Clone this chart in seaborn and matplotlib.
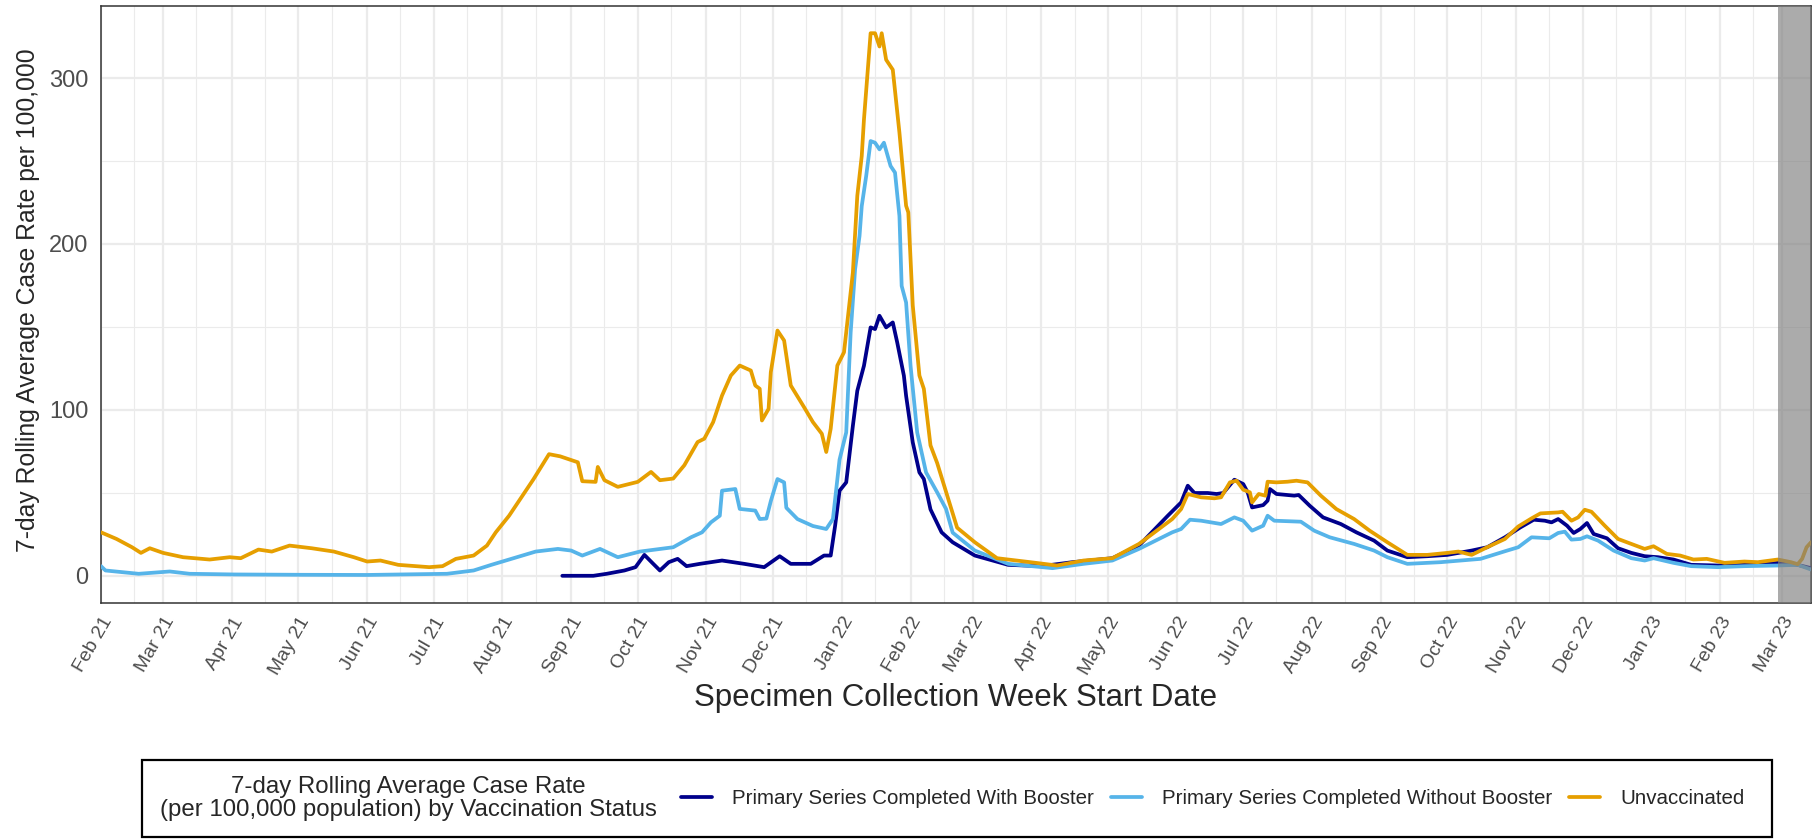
import pandas as pd
import matplotlib
matplotlib.use("Agg")
import matplotlib.pyplot as plt
import matplotlib.dates as mdates
from matplotlib.patches import Rectangle
from matplotlib.ticker import MultipleLocator
import seaborn as sns


# 7-day rolling average case rate per 100,000
unvax_dates = [
    "2021-02-01", "2021-02-08", "2021-02-15", "2021-02-19", "2021-02-23", "2021-03-01",
    "2021-03-10", "2021-03-22", "2021-03-31", "2021-04-05", "2021-04-13", "2021-04-19",
    "2021-04-27", "2021-05-07", "2021-05-17", "2021-05-26", "2021-06-01", "2021-06-07",
    "2021-06-15", "2021-06-29", "2021-07-05", "2021-07-11", "2021-07-19", "2021-07-25",
    "2021-07-29", "2021-08-04", "2021-08-09", "2021-08-15", "2021-08-22", "2021-08-27",
    "2021-09-04", "2021-09-06", "2021-09-12", "2021-09-13", "2021-09-16", "2021-09-22",
    "2021-10-01", "2021-10-07", "2021-10-11", "2021-10-17", "2021-10-22", "2021-10-28",
    "2021-10-31", "2021-11-04", "2021-11-08", "2021-11-12", "2021-11-16", "2021-11-21",
    "2021-11-23", "2021-11-25", "2021-11-26", "2021-11-29", "2021-11-30", "2021-12-03",
    "2021-12-06", "2021-12-09", "2021-12-15", "2021-12-19", "2021-12-23", "2021-12-25",
    "2021-12-27", "2021-12-30", "2022-01-02", "2022-01-06", "2022-01-08", "2022-01-10",
    "2022-01-11", "2022-01-14", "2022-01-16", "2022-01-18", "2022-01-19", "2022-01-21",
    "2022-01-24", "2022-01-27", "2022-01-30", "2022-01-31", "2022-02-02", "2022-02-05",
    "2022-02-07", "2022-02-10", "2022-02-13", "2022-02-17", "2022-02-22", "2022-03-02",
    "2022-03-12", "2022-03-27", "2022-04-08", "2022-04-20", "2022-05-03", "2022-05-15",
    "2022-05-30", "2022-06-03", "2022-06-06", "2022-06-12", "2022-06-18", "2022-06-21",
    "2022-06-25", "2022-06-28", "2022-07-01", "2022-07-04", "2022-07-05", "2022-07-08",
    "2022-07-11", "2022-07-12", "2022-07-16", "2022-07-21", "2022-07-25", "2022-07-30",
    "2022-08-05", "2022-08-12", "2022-08-20", "2022-08-27", "2022-09-04", "2022-09-13",
    "2022-09-22", "2022-10-01", "2022-10-06", "2022-10-12", "2022-10-19", "2022-10-27",
    "2022-11-02", "2022-11-08", "2022-11-12", "2022-11-20", "2022-11-22", "2022-11-26",
    "2022-11-29", "2022-12-02", "2022-12-05", "2022-12-11", "2022-12-17", "2022-12-23",
    "2022-12-29", "2023-01-02", "2023-01-08", "2023-01-14", "2023-01-20", "2023-01-26",
    "2023-02-03", "2023-02-12", "2023-02-18", "2023-02-27", "2023-03-05", "2023-03-08",
    "2023-03-10", "2023-03-12", "2023-03-14",
]
unvax_rate = [
    26.2, 22.2, 17.2, 13.8, 16.6, 13.8,
    11.2, 9.8, 11.2, 10.6, 15.8, 14.6,
    18.2, 16.6, 14.6, 11.2, 8.6, 9.2,
    6.6, 5.2, 5.8, 10.2, 12.2, 18.2,
    26.2, 36.2, 46.2, 58.2, 73.3, 72.0,
    68.4, 57.0, 56.6, 65.6, 57.6, 53.6,
    56.6, 62.6, 57.6, 58.6, 66.6, 80.6,
    82.6, 92.6, 108.6, 120.7, 126.7, 123.7,
    114.7, 112.7, 93.6, 100.6, 122.7, 147.8,
    141.8, 114.7, 101.6, 92.6, 85.6, 74.6,
    88.6, 126.7, 134.7, 182.8, 229.0, 253.0,
    275.0, 327.0, 327.0, 319.0, 327.0, 311.0,
    305.0, 267.0, 223.0, 219.0, 163.0, 120.7,
    112.7, 78.6, 68.0, 50.6, 29.0, 20.2,
    10.6, 8.2, 6.2, 9.2, 10.6, 19.2,
    34.2, 40.2, 49.3, 47.3, 46.7, 47.3,
    56.3, 57.3, 51.9, 50.3, 44.2, 49.3,
    48.3, 56.7, 56.3, 56.7, 57.3, 56.3,
    48.3, 40.2, 34.2, 27.2, 20.2, 12.6,
    12.6, 13.8, 14.6, 12.6, 17.2, 22.2,
    29.7, 34.6, 37.6, 38.2, 38.6, 33.2,
    35.2, 39.8, 38.6, 30.2, 22.2, 19.2,
    16.2, 17.8, 13.2, 12.2, 9.8, 10.2,
    7.8, 8.6, 8.2, 9.8, 8.2, 7.0,
    10.2, 17.2, 20.2,
]

no_booster_dates = [
    "2021-02-01", "2021-02-03", "2021-02-18", "2021-03-04", "2021-03-13", "2021-04-02",
    "2021-05-02", "2021-06-01", "2021-07-07", "2021-07-19", "2021-07-27", "2021-08-06",
    "2021-08-16", "2021-08-26", "2021-09-01", "2021-09-06", "2021-09-14", "2021-09-22",
    "2021-10-02", "2021-10-17", "2021-10-25", "2021-10-30", "2021-11-03", "2021-11-07",
    "2021-11-08", "2021-11-14", "2021-11-16", "2021-11-23", "2021-11-25", "2021-11-28",
    "2021-11-30", "2021-12-03", "2021-12-06", "2021-12-07", "2021-12-12", "2021-12-19",
    "2021-12-25", "2021-12-28", "2021-12-31", "2022-01-03", "2022-01-05", "2022-01-07",
    "2022-01-09", "2022-01-10", "2022-01-12", "2022-01-14", "2022-01-16", "2022-01-18",
    "2022-01-20", "2022-01-23", "2022-01-25", "2022-01-27", "2022-01-28", "2022-01-30",
    "2022-02-01", "2022-02-04", "2022-02-08", "2022-02-13", "2022-02-17", "2022-02-20",
    "2022-03-02", "2022-03-17", "2022-04-06", "2022-04-20", "2022-05-03", "2022-05-15",
    "2022-05-30", "2022-06-03", "2022-06-07", "2022-06-12", "2022-06-21", "2022-06-27",
    "2022-07-01", "2022-07-05", "2022-07-10", "2022-07-12", "2022-07-15", "2022-07-27",
    "2022-08-02", "2022-08-09", "2022-08-20", "2022-08-29", "2022-09-04", "2022-09-13",
    "2022-09-28", "2022-10-16", "2022-10-28", "2022-11-02", "2022-11-08", "2022-11-16",
    "2022-11-20", "2022-11-23", "2022-11-26", "2022-11-30", "2022-12-03", "2022-12-08",
    "2022-12-15", "2022-12-23", "2022-12-29", "2023-01-02", "2023-01-11", "2023-01-19",
    "2023-01-31", "2023-02-12", "2023-02-27", "2023-03-08", "2023-03-14",
]
no_booster_rate = [
    5.8, 3.2, 1.2, 2.6, 1.2, 0.8,
    0.6, 0.5, 1.2, 3.2, 6.6, 10.6,
    14.6, 16.2, 15.2, 12.2, 16.2, 11.2,
    14.6, 17.2, 23.2, 26.2, 32.2, 36.2,
    51.3, 52.3, 40.3, 39.3, 34.2, 34.5,
    45.0, 58.3, 56.3, 41.0, 34.2, 30.0,
    28.2, 34.2, 70.0, 86.4, 146.6, 184.7,
    204.8, 222.8, 240.9, 262.0, 261.0, 257.0,
    261.0, 247.0, 243.0, 216.8, 174.7, 164.7,
    126.6, 86.4, 62.3, 50.3, 40.3, 26.0,
    15.2, 7.2, 4.6, 7.2, 9.2, 16.2,
    26.2, 28.2, 33.8, 33.2, 31.2, 35.2,
    33.2, 27.2, 30.2, 36.2, 33.2, 32.6,
    27.2, 23.2, 19.2, 15.2, 11.2, 7.2,
    8.2, 10.2, 15.2, 17.2, 23.2, 22.6,
    25.8, 26.6, 21.8, 22.2, 23.8, 21.2,
    15.2, 10.6, 9.2, 10.6, 7.8, 5.8,
    5.2, 5.8, 6.2, 6.6, 3.8,
]

booster_dates = [
    "2021-08-28", "2021-09-05", "2021-09-11", "2021-09-17", "2021-09-25", "2021-09-30",
    "2021-10-04", "2021-10-08", "2021-10-11", "2021-10-15", "2021-10-19", "2021-10-23",
    "2021-10-29", "2021-11-08", "2021-11-18", "2021-11-27", "2021-12-04", "2021-12-09",
    "2021-12-18", "2021-12-24", "2021-12-27", "2021-12-29", "2021-12-31", "2022-01-03",
    "2022-01-06", "2022-01-08", "2022-01-11", "2022-01-14", "2022-01-16", "2022-01-18",
    "2022-01-21", "2022-01-24", "2022-01-26", "2022-01-29", "2022-01-30", "2022-02-02",
    "2022-02-05", "2022-02-07", "2022-02-10", "2022-02-15", "2022-02-20", "2022-03-02",
    "2022-03-17", "2022-04-01", "2022-04-15", "2022-05-03", "2022-05-15", "2022-05-28",
    "2022-06-03", "2022-06-06", "2022-06-09", "2022-06-15", "2022-06-19", "2022-06-22",
    "2022-06-27", "2022-07-01", "2022-07-03", "2022-07-05", "2022-07-10", "2022-07-12",
    "2022-07-13", "2022-07-16", "2022-07-24", "2022-07-26", "2022-07-31", "2022-08-06",
    "2022-08-14", "2022-08-21", "2022-08-29", "2022-09-04", "2022-09-13", "2022-09-22",
    "2022-10-01", "2022-10-12", "2022-10-19", "2022-10-27", "2022-11-03", "2022-11-09",
    "2022-11-14", "2022-11-17", "2022-11-20", "2022-11-24", "2022-11-27", "2022-11-30",
    "2022-12-03", "2022-12-06", "2022-12-12", "2022-12-17", "2022-12-23", "2022-12-29",
    "2023-01-04", "2023-01-11", "2023-01-19", "2023-01-31", "2023-02-12", "2023-02-27",
    "2023-03-08", "2023-03-14",
]
booster_rate = [
    0.0, 0.0, 0.0, 1.2, 3.2, 5.2,
    12.6, 7.2, 3.2, 8.2, 10.2, 5.8,
    7.2, 9.2, 7.2, 5.2, 11.8, 7.2,
    7.2, 12.2, 12.2, 30.2, 51.3, 56.3,
    90.4, 111.5, 126.6, 149.7, 148.7, 156.7,
    149.7, 152.7, 140.6, 120.6, 108.5, 80.4,
    62.3, 58.3, 40.0, 26.2, 20.2, 12.2,
    6.6, 5.8, 8.2, 10.6, 18.2, 36.2,
    44.2, 54.3, 49.9, 49.9, 49.3, 49.9,
    57.9, 55.3, 50.3, 41.2, 42.6, 45.3,
    52.3, 49.3, 48.3, 48.7, 42.2, 35.2,
    31.2, 26.2, 21.2, 15.2, 11.2, 11.8,
    12.6, 15.2, 17.2, 23.2, 29.2, 33.8,
    33.2, 32.2, 34.2, 30.2, 25.8, 28.2,
    31.8, 25.2, 22.6, 16.6, 13.8, 11.8,
    11.2, 9.8, 6.6, 6.2, 6.6, 7.8,
    6.6, 4.6,
]

status_order = [
    "Primary Series Completed With Booster",
    "Primary Series Completed Without Booster",
    "Unvaccinated",
]
status_colors = ["#00008B", "#56B4E9", "#E69F00"]

x_start, x_end = "2021-02-01", "2023-03-14"
shade_start = "2023-02-27"

df = pd.concat([
    pd.DataFrame({"date": pd.to_datetime(booster_dates), "rate": booster_rate,
                  "status": status_order[0]}),
    pd.DataFrame({"date": pd.to_datetime(no_booster_dates), "rate": no_booster_rate,
                  "status": status_order[1]}),
    pd.DataFrame({"date": pd.to_datetime(unvax_dates), "rate": unvax_rate,
                  "status": status_order[2]}),
], ignore_index=True)

sns.set_style("white")
plt.rcParams["font.family"] = ["Liberation Sans", "DejaVu Sans"]

W, H = 1820, 840
fig = plt.figure(figsize=(W / 100, H / 100), dpi=100)
ax = fig.add_axes([101 / W, 1 - 603 / H, (1811 - 101) / W, (603 - 6) / H])

sns.lineplot(data=df, x="date", y="rate", hue="status", hue_order=status_order,
             palette=dict(zip(status_order, status_colors)), linewidth=2.7,
             estimator=None, legend=True, ax=ax, zorder=3)
handles, labels = ax.get_legend_handles_labels()
ax.get_legend().remove()

# data collection lag shading
ax.axvspan(pd.Timestamp(shade_start), pd.Timestamp(x_end), color="#7f7f7f",
           alpha=0.65, lw=0, zorder=4)

ax.set_xlim(pd.Timestamp(x_start), pd.Timestamp(x_end))
ax.set_ylim(-16.4, 343.4)

ax.xaxis.set_major_locator(mdates.MonthLocator())
ax.xaxis.set_minor_locator(mdates.MonthLocator(bymonthday=16))
ax.xaxis.set_major_formatter(mdates.DateFormatter("%b %y"))
ax.yaxis.set_major_locator(MultipleLocator(100))
ax.yaxis.set_minor_locator(MultipleLocator(50))

ax.set_axisbelow(True)
ax.grid(which="major", color="#EBEBEB", lw=1.6)
ax.grid(which="minor", color="#EBEBEB", lw=0.8)
ax.tick_params(which="minor", length=0)
ax.tick_params(which="major", length=4, width=1.1, color="#333333",
               labelcolor="#4D4D4D", pad=5)
ax.tick_params(axis="y", labelsize=17)
ax.tick_params(axis="x", labelsize=14, pad=4)
plt.setp(ax.get_xticklabels(), rotation=60, ha="right", va="top",
         rotation_mode="anchor")
for sp in ax.spines.values():
    sp.set_visible(True)
    sp.set_color("#333333")
    sp.set_linewidth(1.1)

ax.set_xlabel("")
ax.set_ylabel("")
fig.text(28 / W, 1 - 300 / H, "7-day Rolling Average Case Rate per 100,000",
         rotation=90, ha="center", va="center", fontsize=17.8)
fig.text(956 / W, 1 - 698 / H, "Specimen Collection Week Start Date",
         ha="center", va="center", fontsize=22.5)

# legend box with title on the left, like the original
leg_y = 1 - 798.5 / H
fig.legend(handles, labels, loc="center left", bbox_to_anchor=(681 / W, leg_y),
           ncol=3, frameon=False, fontsize=14.8, handlelength=1.5,
           handletextpad=1.0, columnspacing=0.8, borderpad=0, borderaxespad=0)
fig.text(408 / W, leg_y, "7-day Rolling Average Case Rate\n"
         "(per 100,000 population) by Vaccination Status",
         ha="center", va="center", multialignment="center", fontsize=17.3,
         linespacing=1.05)
fig.add_artist(Rectangle((142 / W, 1 - 837 / H), (1772 - 142) / W, 77 / H,
                         transform=fig.transFigure, fill=False, ec="black", lw=1.6))

fig.savefig("out.png", dpi=100)
